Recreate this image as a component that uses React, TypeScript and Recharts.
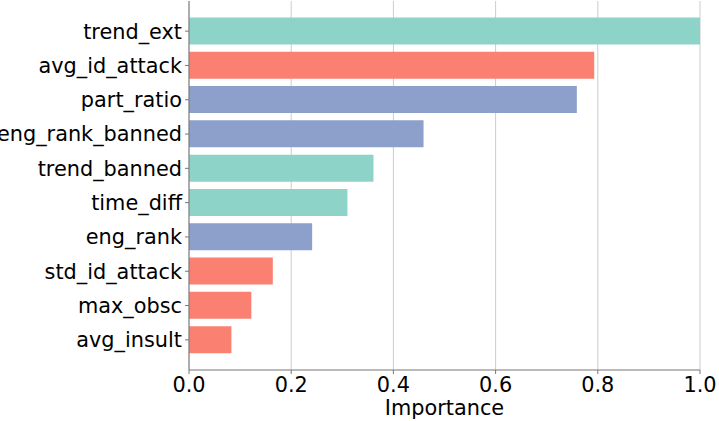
import React from "react";
import { BarChart, Bar, XAxis, YAxis, CartesianGrid, Cell } from "recharts";

const features = [
  "trend_ext",
  "avg_id_attack",
  "part_ratio",
  "eng_rank_banned",
  "trend_banned",
  "time_diff",
  "eng_rank",
  "std_id_attack",
  "max_obsc",
  "avg_insult",
];
const importance = [1.0, 0.793, 0.759, 0.459, 0.361, 0.31, 0.241, 0.164, 0.122, 0.083];
const groups = [
  "trend",
  "toxicity",
  "engagement",
  "engagement",
  "trend",
  "trend",
  "engagement",
  "toxicity",
  "toxicity",
  "toxicity",
];
const xTicks = [0, 0.2, 0.4, 0.6, 0.8, 1.0];

const groupColor: Record<string, string> = {
  trend: "#8dd3c7",
  toxicity: "#fa8072",
  engagement: "#8da0cb",
};

const data = features.map((f, i) => ({ feature: f, value: importance[i], group: groups[i] }));

const font = "'DejaVu Sans', sans-serif";
const fontSize = 20.83;
const spine = "#777777";

export default function App() {
  return (
    <div style={{ position: "absolute", left: 0, top: 0, width: 719, height: 421, background: "#fff" }}>
      <BarChart
        width={719}
        height={421}
        data={data}
        layout="vertical"
        margin={{ top: 1, right: 19, left: 0, bottom: 0 }}
        barCategoryGap="10%"
      >
        <CartesianGrid horizontal={false} stroke="#cccccc" strokeWidth={1} />
        <XAxis
          type="number"
          domain={[0, 1]}
          ticks={xTicks}
          tickFormatter={(v: number) => v.toFixed(1)}
          height={51}
          tickSize={4}
          tickMargin={3}
          axisLine={{ stroke: spine }}
          tickLine={{ stroke: spine }}
          tick={{ fill: "#000", fontSize, fontFamily: font }}
          label={{
            value: "Importance",
            position: "insideBottom",
            offset: 6,
            fill: "#000",
            fontSize,
            fontFamily: font,
          }}
        />
        <XAxis
          xAxisId="top"
          orientation="top"
          type="number"
          domain={[0, 1]}
          height={0}
          tick={false}
          tickLine={false}
          axisLine={{ stroke: spine }}
        />
        <YAxis
          type="category"
          dataKey="feature"
          width={189}
          padding={{ top: 13, bottom: 13 }}
          interval={0}
          tickSize={4}
          tickMargin={3}
          axisLine={{ stroke: spine }}
          tickLine={{ stroke: spine }}
          tick={{ fill: "#000", fontSize, fontFamily: font }}
        />
        <YAxis
          yAxisId="right"
          orientation="right"
          type="number"
          domain={[0, 1]}
          width={0}
          tick={false}
          tickLine={false}
          axisLine={{ stroke: spine }}
        />
        <Bar dataKey="value" isAnimationActive={false}>
          {data.map((d) => (
            <Cell key={d.feature} fill={groupColor[d.group]} />
          ))}
        </Bar>
      </BarChart>
    </div>
  );
}
